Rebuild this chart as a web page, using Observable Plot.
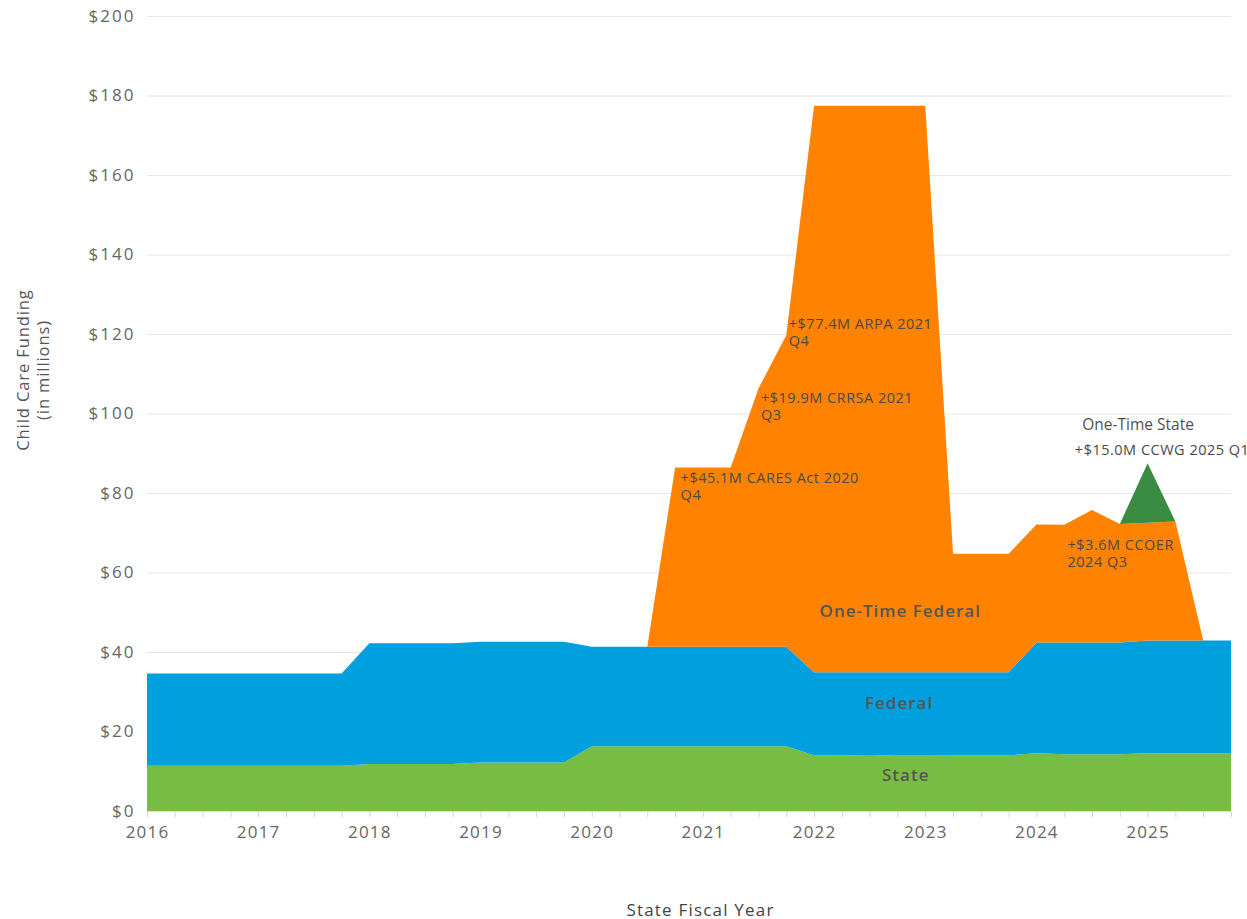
<!DOCTYPE html>
<html>
<head>
<meta charset="utf-8">
<script src="https://cdn.jsdelivr.net/npm/d3@7"></script>
<script src="https://cdn.jsdelivr.net/npm/@observablehq/plot@0.6"></script>
<style>
  body { margin: 0; background: #fff; }
  #chart svg { display: block; }
  #chart [aria-label="y-axis tick label"] { letter-spacing: 2px; }
  #chart [aria-label="x-axis tick label"] { letter-spacing: 1.2px; }
  #chart .ann { letter-spacing: 0.5px; }
  #chart .series-label { letter-spacing: 1px; }
  #chart .x-title { letter-spacing: 1.2px; }
  #chart .y-title { letter-spacing: 0.9px; }
</style>
</head>
<body>
<div id="chart"></div>
<script>
// ---------- data ----------
const years = [2016, 2017, 2018, 2019, 2020, 2021, 2022, 2023, 2024, 2025];
const quarterLabels = years.flatMap(y => ["Q1", "Q2", "Q3", "Q4"].map(q => `${y} ${q}`));

const stateFunding = [
  11.4, 11.4, 11.4, 11.4, 11.4, 11.4, 11.4, 11.4,
  11.8, 11.8, 11.8, 11.8,
  12.2, 12.2, 12.2, 12.2,
  16.3, 16.3, 16.3, 16.3, 16.3, 16.3, 16.3, 16.3,
  14.0, 14.0, 13.9, 14.1, 14.1, 14.0, 14.0, 14.0,
  14.5, 14.3, 14.3, 14.3, 14.5, 14.5, 14.5, 14.5
];
const federalFunding = [
  23.2, 23.2, 23.2, 23.2, 23.2, 23.2, 23.2, 23.2,
  30.4, 30.4, 30.4, 30.4,
  30.4, 30.4, 30.4, 30.4,
  25.0, 25.0, 25.0, 25.0, 25.0, 25.0, 25.0, 25.0,
  20.9, 20.9, 21.0, 20.8, 20.8, 20.9, 20.9, 20.9,
  27.9, 28.1, 28.1, 28.1, 28.4, 28.4, 28.4, 28.4
];
const oneTimeFederal = [
  0, 0, 0, 0, 0, 0, 0, 0,
  0, 0, 0, 0,
  0, 0, 0, 0,
  0, 0, 0, 45.1, 45.1, 45.1, 65.0, 78.4,
  142.5, 142.5, 142.5, 142.5, 142.5, 29.8, 29.8, 29.8,
  29.7, 29.6, 33.3, 29.8, 29.6, 29.9, 0, 0
];
const oneTimeState = [
  0, 0, 0, 0, 0, 0, 0, 0,
  0, 0, 0, 0,
  0, 0, 0, 0,
  0, 0, 0, 0, 0, 0, 0, 0,
  0, 0, 0, 0, 0, 0, 0, 0,
  0, 0, 0, 0, 15.0, 0, 0, 0
];

const seriesNames = ["State", "Federal", "One-Time Federal", "One-Time State"];
const seriesColors = ["#77bc43", "#00a0de", "#ff8300", "#3a8c43"];
const seriesValues = [stateFunding, federalFunding, oneTimeFederal, oneTimeState];

const yTicks = [0, 20, 40, 60, 80, 100, 120, 140, 160, 180, 200];
const yearTickLabels = ["2016", "2017", "2018", "2019", "2020", "2021", "2022", "2023", "2024", "2025"];

const annotationQuarters = ["2020 Q4", "2021 Q3", "2021 Q4", "2024 Q3", "2025 Q1"];
const annotationTexts = [
  "+$45.1M CARES Act 2020\nQ4",
  "+$19.9M CRRSA 2021\nQ3",
  "+$77.4M ARPA 2021\nQ4",
  "+$3.6M CCOER\n2024 Q3",
  "+$15.0M CCWG 2025 Q1"
];

// ---------- derived ----------
const quarterTime = label => {
  const [y, q] = label.split(" ");
  return +y + (+q.slice(1) - 1) / 4;
};
const rows = seriesNames.flatMap((s, si) =>
  quarterLabels.map((ql, i) => ({ t: quarterTime(ql), series: s, value: seriesValues[si][i] }))
);
const totalAt = label => {
  const i = quarterLabels.indexOf(label);
  return seriesValues.reduce((a, arr) => a + arr[i], 0);
};
const ann = annotationQuarters.map((q, i) => ({ t: quarterTime(q), y: totalAt(q), text: annotationTexts[i] }));
const quarterTicks = quarterLabels.map(quarterTime);
const yearTicks = yearTickLabels.map(Number);

const FONT = "'Open Sans', sans-serif";
const annStyle = { fill: "#4a4a4a", fontSize: 14.5, textAnchor: "start", lineAnchor: "top", lineHeight: 1.18, fontFamily: FONT, className: "ann" };

const chart = Plot.plot({
  width: 1247,
  height: 919,
  marginLeft: 147,
  marginRight: 16,
  marginTop: 16,
  marginBottom: 108,
  style: { fontFamily: FONT, background: "#fff", overflow: "visible" },
  x: { domain: [2016, 2025.75], label: null },
  y: { domain: [0, 200], label: null },
  color: { domain: seriesNames, range: seriesColors },
  marks: [
    Plot.gridY(yTicks, { stroke: "#e6e6e6", strokeOpacity: 1, strokeWidth: 1 }),
    Plot.areaY(rows, { x: "t", y: "value", fill: "series", order: seriesNames, curve: "linear" }),
    Plot.ruleY([0], { stroke: "#dcdcdc" }),
    Plot.axisX(quarterTicks, { tickSize: 6, tickFormat: () => "", stroke: "#d5d5d5" }),
    Plot.axisX(yearTicks, { tickSize: 0, tickPadding: 14, tickFormat: d => String(d), fontSize: 17, fill: "#666", fontFamily: FONT }),
    Plot.axisY(yTicks, { tickSize: 0, tickPadding: 12, tickFormat: d => "$" + d, fontSize: 17, fill: "#666", fontFamily: FONT }),
    // annotations (anchored to the stacked top of their quarter)
    Plot.text([ann[0]], { x: "t", y: "y", text: "text", dx: 5, dy: 3, ...annStyle }),
    Plot.text([ann[1]], { x: "t", y: "y", text: "text", dx: 2, dy: 2, ...annStyle }),
    Plot.text([ann[2]], { x: "t", y: "y", text: "text", dx: 2, dy: -19, ...annStyle }),
    Plot.text([ann[3]], { x: "t", y: "y", text: "text", dx: -25, dy: 27, ...annStyle }),
    Plot.text([ann[4]], { x: "t", y: "y", text: "text", dx: 14, dy: -21, ...annStyle, textAnchor: "middle" }),
    Plot.text([ann[4]], { x: "t", y: "y", text: () => "One-Time State", dx: -10, dy: -39, fill: "#505050", fontSize: 15.5, fontFamily: FONT, fontWeight: 500, lineAnchor: "middle" }),
    // series labels
    Plot.text([{ t: 2022.77, y: 50.3, s: "One-Time Federal" }, { t: 2022.76, y: 27.2, s: "Federal" }, { t: 2022.82, y: 9.0, s: "State" }],
      { x: "t", y: "y", text: "s", fill: "#555", fontSize: 17, fontWeight: 600, fontFamily: FONT, lineAnchor: "middle", className: "series-label" }),
    // axis titles
    Plot.text(["State Fiscal Year"], { frameAnchor: "bottom", text: d => d, dx: 11, dy: 99, fontSize: 17, fill: "#444", fontFamily: FONT, textAnchor: "middle", lineAnchor: "middle", className: "x-title" }),
    Plot.text(["Child Care Funding\n(in millions)"], { frameAnchor: "left", text: d => d, rotate: -90, dx: -115, dy: -44, fontSize: 16.5, fill: "#555", fontFamily: FONT, textAnchor: "middle", lineAnchor: "middle", lineHeight: 1.25, className: "y-title" })
  ]
});
document.getElementById("chart").appendChild(chart);
</script>
</body>
</html>
